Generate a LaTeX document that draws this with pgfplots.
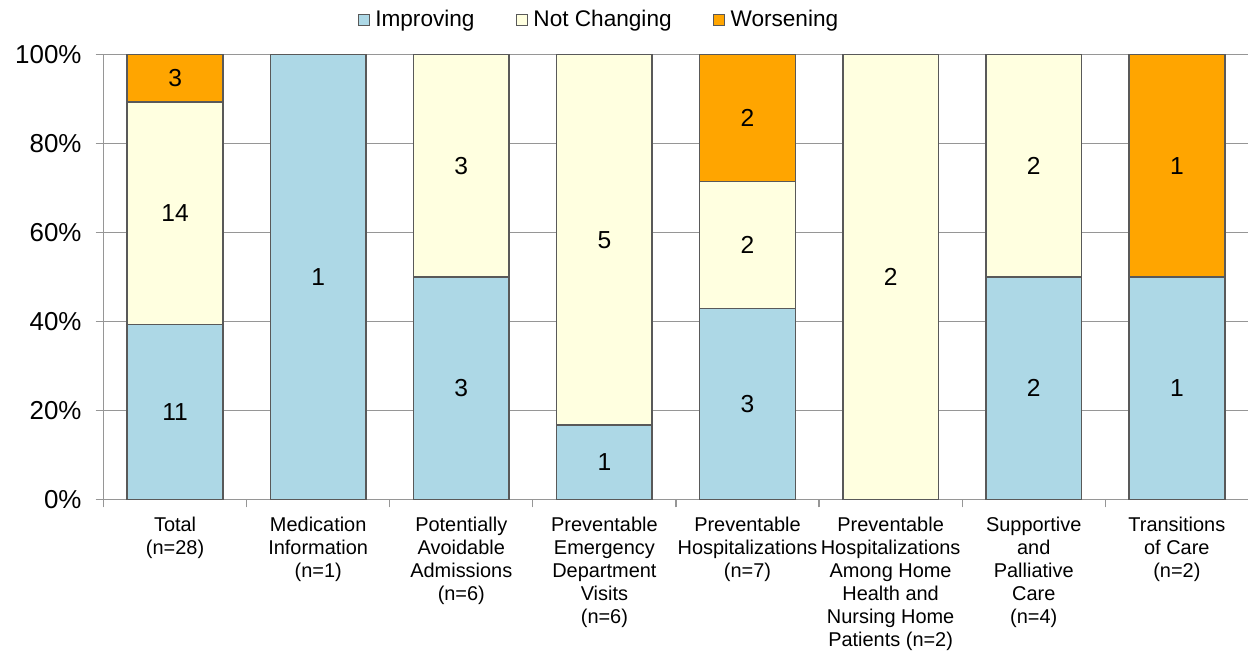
\documentclass[border=0pt]{standalone}
\usepackage{pgfplots}
\pgfplotsset{compat=1.18}
\usepackage{fontspec}
\setmainfont{Liberation Sans}
\definecolor{improv}{HTML}{ADD8E6}
\definecolor{nochg}{HTML}{FFFFE0}
\definecolor{worse}{HTML}{FFA500}
\definecolor{edgegray}{HTML}{595959}
\definecolor{axgray}{HTML}{969696}

% percent of measures per group, counts shown as labels
\pgfplotstableread{
x imp not wor
0 39.2857 50.0000 10.7143
1 100 0 0
2 50 50 0
3 16.6667 83.3333 0
4 42.8571 28.5714 28.5714
5 0 100 0
6 50 50 0
7 50 0 50
}\shares

\begin{document}
\begin{tikzpicture}
\begin{axis}[
  name=main,
  ybar stacked, bar width=72pt,
  width=861pt, height=334.5pt, scale only axis,
  xmin=-0.5, xmax=7.5, ymin=0, ymax=100,
  axis x line*=bottom, axis y line*=left,
  axis line style={axgray, line width=0.9pt},
  xtick={-0.5,0.5,...,6.5}, xticklabels={},
  extra x ticks={0,...,7},
  extra x tick style={major tick length=0pt},
  extra x tick labels={
    Total\\(n=28),
    Medication\\Information\\(n=1),
    Potentially\\Avoidable\\Admissions\\(n=6),
    Preventable\\Emergency\\Department\\Visits\\(n=6),
    Preventable\\Hospitalizations\\(n=7),
    Preventable\\Hospitalizations\\Among Home\\Health and\\Nursing Home\\Patients (n=2),
    Supportive\\and\\Palliative\\Care\\(n=4),
    Transitions\\of Care\\(n=2)},
  xticklabel style={align=center, font=\fontsize{15}{17.25}\selectfont, yshift=-10pt},
  ytick={0,20,...,100},
  yticklabel={\pgfmathprintnumber{\tick}\%},
  /pgf/number format/assume math mode=true,
  yticklabel style={font=\fontsize{19.5}{22}\selectfont, xshift=-7pt,
    text width=58pt, align=right},
  tick align=outside, major tick length=6pt,
  tick style={axgray, line width=0.9pt},
  ymajorgrids, grid style={axgray, line width=0.9pt},
  legend style={at={(0.433,1)}, anchor=south, yshift=15pt, draw=none,
    legend columns=3, font=\fontsize{17}{20}\selectfont,
    /tikz/every odd column/.append style={column sep=2pt},
    /tikz/every even column/.append style={column sep=29pt}},
  legend image code/.code={\draw[#1, draw=edgegray, line width=0.8pt] (0pt,-4.25pt) rectangle (8.5pt,4.25pt);},
]
\addplot[fill=improv, draw=edgegray, line width=1.2pt] table[x=x, y=imp] {\shares};
\addplot[fill=nochg, draw=edgegray, line width=1.2pt] table[x=x, y=not] {\shares};
\addplot[fill=worse, draw=edgegray, line width=1.2pt] table[x=x, y=wor] {\shares};
\legend{Improving, Not Changing, Worsening}
\end{axis}
\begin{axis}[
  at={(main.south west)}, anchor=south west,
  width=861pt, height=334.5pt, scale only axis,
  xmin=-0.5, xmax=7.5, ymin=0, ymax=100,
  hide axis,
]
\addplot[draw=none, nodes near coords, point meta=explicit symbolic,
  every node near coord/.style={anchor=center, font=\fontsize{18.5}{21}\selectfont}]
  coordinates {
    (0,19.64) [11] (0,64.29) [14] (0,94.64) [3]
    (1,50) [1]
    (2,25) [3] (2,75) [3]
    (3,8.33) [1] (3,58.33) [5]
    (4,21.43) [3] (4,57.14) [2] (4,85.71) [2]
    (5,50) [2]
    (6,25) [2] (6,75) [2]
    (7,25) [1] (7,75) [1]
  };
\end{axis}
% a little white room above the legend, as in the reference
\path (main.north) ++(0,41pt) coordinate (toproom);
\end{tikzpicture}
\end{document}
